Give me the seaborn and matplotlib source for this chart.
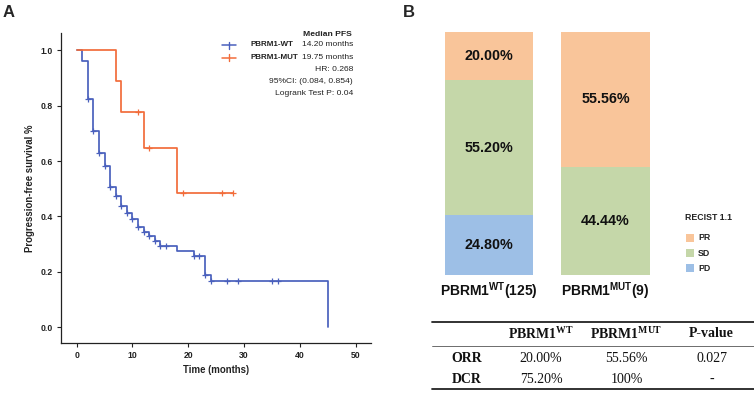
import numpy as np
import pandas as pd
import matplotlib
matplotlib.use("Agg")
import matplotlib.pyplot as plt
import seaborn as sns
from matplotlib.lines import Line2D
from matplotlib.patches import Rectangle

# ---------------- data ----------------
wt_time = [0, 1, 2, 3, 4, 5, 6, 7, 8, 9, 10, 11, 12, 13, 14, 15, 18, 21, 23, 24, 45]
wt_surv = [1.0, 0.961, 0.824, 0.707, 0.628, 0.583, 0.507, 0.473, 0.439, 0.414, 0.389,
           0.361, 0.345, 0.330, 0.313, 0.295, 0.275, 0.256, 0.190, 0.168, 0.0]
wt_censor = [2, 3, 4, 5, 6, 7, 8, 9, 10, 11, 12, 13, 14, 15, 16, 21, 22, 23, 24, 27, 29, 35, 36]

mut_time = [0, 7, 8, 12, 18, 28]
mut_surv = [1.0, 0.889, 0.778, 0.648, 0.486, 0.486]
mut_censor = [11, 13, 19, 26, 28]

km_xticks = [0, 10, 20, 30, 40, 50]
km_yticks = [0.0, 0.2, 0.4, 0.6, 0.8, 1.0]

legend_names = ["PBRM1-WT", "PBRM1-MUT"]
legend_medians = ["14.20 months", "19.75 months"]
stats_lines = ["HR: 0.268", "95%CI: (0.084, 0.854)", "Logrank Test P: 0.04"]

groups = ["WT", "MUT"]
group_labels = [r"PBRM1$^{\mathsf{WT}}$(125)", r"PBRM1$^{\mathsf{MUT}}$(9)"]
pr_vals = [20.00, 55.56]
sd_vals = [55.20, 44.44]
pd_vals = [24.80, 0.0]
resp_names = ["PR", "SD", "PD"]

table_header = ["", r"PBRM1$^{\mathbf{WT}}$", r"PBRM1$^{\mathbf{MUT}}$", "P-value"]
table_rows = [["ORR", "20.00%", "55.56%", "0.027"],
              ["DCR", "75.20%", "100%", "-"]]

# ---------------- style ----------------
sns.set_theme(style="ticks")
plt.rcParams["font.family"] = ["Liberation Sans", "DejaVu Sans"]
plt.rcParams["mathtext.fontset"] = "custom"
plt.rcParams["mathtext.sf"] = "Liberation Sans:bold"
plt.rcParams["mathtext.bf"] = "Liberation Serif:bold"
plt.rcParams["mathtext.rm"] = "Liberation Serif"

W, H = 754, 393
fig = plt.figure(figsize=(W / 100, H / 100), dpi=100)
fig.patch.set_facecolor("white")


def fx(px):
    return px / W


def fy(py):
    return 1 - py / H


c_wt = "#4a60bd"
c_mut = "#f26c3a"
c_pr = "#f9c59a"
c_sd = "#c5d7a9"
c_pdc = "#9dbfe6"

# ---------------- Panel A: KM ----------------
ax = fig.add_axes([fx(61), fy(343.3), (370.7 - 61) / W, (343.3 - 33.3) / H])


def step_y(times, surv, t):
    i = np.searchsorted(np.array(times), t, side="right") - 1
    return surv[i]


df_wt = pd.DataFrame({"t": wt_time, "s": wt_surv})
df_mut = pd.DataFrame({"t": mut_time, "s": mut_surv})
sns.lineplot(data=df_wt, x="t", y="s", drawstyle="steps-post", estimator=None,
             sort=False, color=c_wt, lw=1.25, ax=ax, zorder=2)
sns.lineplot(data=df_mut, x="t", y="s", drawstyle="steps-post", estimator=None,
             sort=False, color=c_mut, lw=1.25, ax=ax, zorder=3)

cw = pd.DataFrame({"t": wt_censor, "s": [step_y(wt_time, wt_surv, t) for t in wt_censor]})
cm = pd.DataFrame({"t": mut_censor, "s": [step_y(mut_time, mut_surv, t) for t in mut_censor]})
sns.scatterplot(data=cw, x="t", y="s", marker="+", s=20, color=c_wt, linewidth=0.9,
                ax=ax, zorder=4)
sns.scatterplot(data=cm, x="t", y="s", marker="+", s=20, color=c_mut, linewidth=0.9,
                ax=ax, zorder=5)

ax.set_xlim(-2.8, 52.7)
ax.set_ylim(-0.058, 1.061)
ax.set_xticks(km_xticks)
ax.set_xticklabels([str(v) for v in km_xticks])
ax.set_yticks(km_yticks)
ax.set_yticklabels([f"{v:.1f}" for v in km_yticks])
for sp in ["top", "right"]:
    ax.spines[sp].set_visible(False)
for sp in ["left", "bottom"]:
    ax.spines[sp].set_linewidth(0.9)
    ax.spines[sp].set_color("#222222")
ax.tick_params(axis="both", length=3.2, width=0.8, pad=2.5, labelsize=6.2,
               colors="#222222")
for lab in ax.get_xticklabels() + ax.get_yticklabels():
    lab.set_fontweight("bold")
ax.set_xlabel("Time (months)", fontsize=6.9, fontweight="bold", color="#222222")
ax.set_ylabel("Progression-free survival %", fontsize=6.9, fontweight="bold",
              color="#222222")
ax.xaxis.set_label_coords(0.5, -0.07)
ax.yaxis.set_label_coords(-0.083, 0.5)
ax.set_facecolor("white")

# legend (custom)
fig.text(fx(352), fy(34), "Median PFS", fontsize=6.1, fontweight="bold", ha="right",
         va="center", color="#222222")
rows_y = [45, 57.7]
for name, med, yy, col in zip(legend_names, legend_medians, rows_y, [c_wt, c_mut]):
    fig.add_artist(Line2D([fx(221.7), fx(236)], [fy(yy), fy(yy)], color=col, lw=1.1))
    fig.add_artist(Line2D([fx(229), fx(229)], [fy(yy - 3.5), fy(yy + 3.5)], color=col, lw=1.0))
    fig.text(fx(250.7), fy(yy), name, fontsize=5.8, fontweight="bold", ha="left",
             va="center", color="#222222")
    fig.text(fx(353), fy(yy), med, fontsize=6.0, ha="right", va="center", color="#222222")
for s, yy in zip(stats_lines, [69.3, 81.3, 93.7]):
    fig.text(fx(353), fy(yy), s, fontsize=6.1, ha="right", va="center", color="#222222")

fig.text(fx(3), fy(16.7), "A", fontsize=12, fontweight="bold", ha="left", va="baseline")
fig.text(fx(403), fy(16.7), "B", fontsize=12, fontweight="bold", ha="left", va="baseline")

# ---------------- Panel B: stacked bars ----------------
axb = fig.add_axes([fx(431), fy(275.3), (663.7 - 431) / W, (275.3 - 31.7) / H])
pr = np.array(pr_vals) / 100
sd = np.array(sd_vals) / 100
pdv = np.array(pd_vals) / 100
tot = pr + sd + pdv
sns.barplot(x=groups, y=tot, order=groups, color=c_pr, saturation=1, width=0.76,
            linewidth=0, ax=axb)
sns.barplot(x=groups, y=sd + pdv, order=groups, color=c_sd, saturation=1, width=0.76,
            linewidth=0, ax=axb)
sns.barplot(x=groups, y=pdv, order=groups, color=c_pdc, saturation=1, width=0.76,
            linewidth=0, ax=axb)
axb.set_xlim(-0.5, 1.5)
axb.set_ylim(0, 1)
axb.axis("off")
for i in range(len(groups)):
    segs = [(pdv[i], 0.0), (sd[i], pdv[i]), (pr[i], pdv[i] + sd[i])]
    vals = [pd_vals[i], sd_vals[i], pr_vals[i]]
    for (h, b), v in zip(segs, vals):
        if h > 0:
            axb.text(i, b + h / 2, f"{v:.2f}%", ha="center", va="center",
                     fontsize=10.3, fontweight="bold", color="#111111")
    axb.text(i, -0.083, group_labels[i], ha="center", va="baseline",
             fontsize=10, fontweight="bold", color="#111111",
             transform=axb.transData, clip_on=False)

# legend B
fig.text(fx(685), fy(217), "RECIST 1.1", fontsize=6.3, fontweight="bold",
         ha="left", va="center", color="#222222")
for name, col, yy in zip(resp_names, [c_pr, c_sd, c_pdc], [237.7, 253.3, 268.3]):
    fig.add_artist(Rectangle((fx(686), fy(yy + 4)), 7.5 / W, 8 / H,
                             transform=fig.transFigure, color=col, lw=0))
    fig.text(fx(698), fy(yy), name, fontsize=6.3, fontweight="bold", ha="left",
             va="center", color="#222222")

# ---------------- table ----------------
col_x = [466.7, 541, 626.5, 711.7]
fig.add_artist(Line2D([fx(432.3), fx(754)], [fy(321.7), fy(321.7)], color="#222222", lw=1.3))
fig.add_artist(Line2D([fx(432.3), fx(754)], [fy(346), fy(346)], color="#555555", lw=0.6))
fig.add_artist(Line2D([fx(432.3), fx(754)], [fy(389.3), fy(389.3)], color="#222222", lw=1.3))
serif = ["Liberation Serif", "DejaVu Serif"]
for x, h in zip(col_x, table_header):
    if h:
        fig.text(fx(x), fy(333.5), h, fontsize=10, fontweight="bold", family=serif,
                 ha="center", va="center", color="#111111")
for row, yy in zip(table_rows, [358.3, 379.3]):
    for j, (x, v) in enumerate(zip(col_x, row)):
        fig.text(fx(x), fy(yy), v, fontsize=10, fontweight="bold" if j == 0 else "normal",
                 family=serif, ha="center", va="center", color="#111111")

fig.savefig("out.png", dpi=100, facecolor="white")
